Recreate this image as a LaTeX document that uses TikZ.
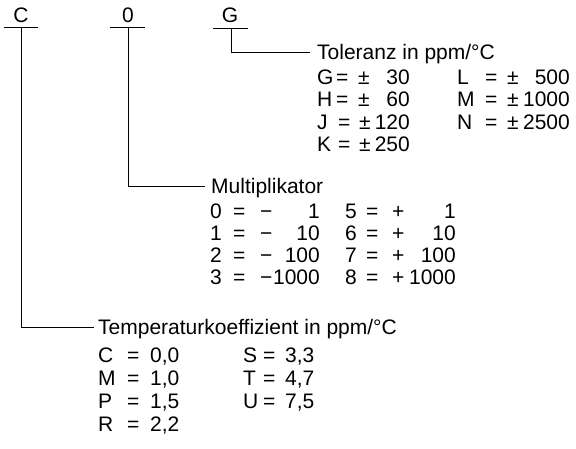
\documentclass[tikz,border=0pt]{standalone}
\usepackage{fontspec}
\setmainfont{Liberation Sans}
\usetikzlibrary{calc}
\begin{document}
\begin{tikzpicture}[x=1pt,y=-1pt,
  txt/.style={inner sep=0pt, anchor=base west, font=\fontsize{21}{24}\selectfont},
  rtxt/.style={txt, anchor=base east},
  ctxt/.style={txt, anchor=base},
  lead/.style={line width=0.8pt, black}]
\useasboundingbox (0,0) rectangle (576,448);

% code letters
\node[ctxt] (cC) at (21,22) {C};
\node[ctxt] (c0) at (128,22) {0};
\node[ctxt] (cG) at (230,22) {G};

\coordinate (uCa) at (4,27);   \coordinate (uCb) at (38,27);  \coordinate (uCm) at (21,27);
\coordinate (u0a) at (110,27); \coordinate (u0b) at (145,27); \coordinate (u0m) at (128,27);
\coordinate (uGa) at (213,28); \coordinate (uGb) at (248,28); \coordinate (uGm) at (231,28);
\draw[lead] (uCa) -- (uCb);
\draw[lead] (u0a) -- (u0b);
\draw[lead] (uGa) -- (uGb);

% headings
\node[txt] (tol) at (317,59) {Toleranz in ppm/°C};
\node[txt] (mul) at (211,193) {Multiplikator};
\node[txt] (tk)  at (98,334) {Temperaturkoeffizient in ppm/°C};

\coordinate (eG) at ($(tol.base west)+(-7,-7)$);
\coordinate (e0) at ($(mul.base west)+(-6,-7)$);
\coordinate (eC) at ($(tk.base west)+(-4,-7)$);
\draw[lead] (uGm) |- (eG);
\draw[lead] (u0m) |- (e0);
\draw[lead] (uCm) |- (eC);

% Toleranz table
\foreach \i/\yy/\a/\ex/\sx/\na in {1/84/G/336/358/30, 2/106/H/336/358/60, 3/129/J/338/359/120, 4/151/K/338/359/250} {
  \node[txt] (ta\i) at (317,\yy) {\a};
  \node[txt] (tae\i) at (\ex,\yy) {=};
  \node[txt] (tas\i) at (\sx,\yy) {±};
  \node[rtxt] (tan\i) at (410,\yy) {\na};
}
\foreach \i/\yy/\b/\nb in {1/84/L/500, 2/106/M/1000, 3/129/N/2500} {
  \node[txt] (tb\i) at (457,\yy) {\b};
  \node[txt] (tbe\i) at (485,\yy) {=};
  \node[txt] (tbs\i) at (507,\yy) {±};
  \node[rtxt] (tbn\i) at (570,\yy) {\nb};
}

% Multiplikator table
\foreach \i/\yy/\a/\na/\b/\nb in {1/218/0/1/5/1, 2/240/1/10/6/10, 3/262/2/100/7/100, 4/284/3/1000/8/1000} {
  \node[txt] (ma\i) at (210,\yy) {\a};
  \node[txt] (mae\i) at (233,\yy) {=};
  \node[txt] (mas\i) at (260,\yy) {−};
  \node[rtxt] (man\i) at (320,\yy) {\na};
  \node[txt] (mb\i) at (345,\yy) {\b};
  \node[txt] (mbe\i) at (366,\yy) {=};
  \node[txt] (mbs\i) at (392,\yy) {+};
  \node[rtxt] (mbn\i) at (456,\yy) {\nb};
}

% Temperaturkoeffizient table
\foreach \i/\yy/\a/\va in {1/362/C/{0,0}, 2/385/M/{1,0}, 3/408/P/{1,5}, 4/431/R/{2,2}} {
  \node[txt] (ka\i) at (98,\yy) {\a};
  \node[txt] (kae\i) at (127,\yy) {=};
  \node[txt] (kav\i) at (150,\yy) {\va};
}
\foreach \i/\yy/\b/\vb in {1/362/S/{3,3}, 2/385/T/{4,7}, 3/408/U/{7,5}} {
  \node[txt] (kb\i) at (243,\yy) {\b};
  \node[txt] (kbe\i) at (263,\yy) {=};
  \node[txt] (kbv\i) at (285,\yy) {\vb};
}
\end{tikzpicture}
\end{document}
